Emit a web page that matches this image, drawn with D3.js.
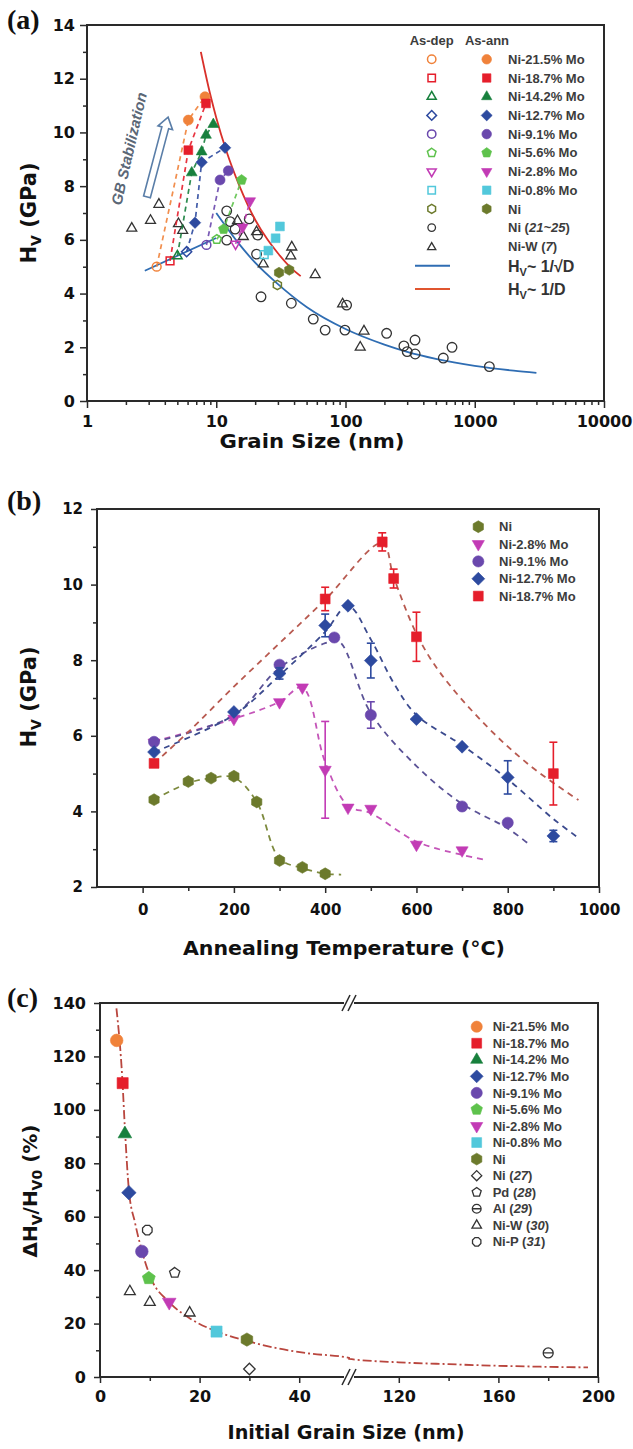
<!DOCTYPE html>
<html><head><meta charset="utf-8">
<script src="https://cdn.jsdelivr.net/npm/d3@7"></script>
<style>body{margin:0;background:#fff}svg{display:block}</style>
</head><body><script>
// ---------------- shared series definitions ----------------
const alloyNames  = ["Ni-21.5% Mo","Ni-18.7% Mo","Ni-14.2% Mo","Ni-12.7% Mo","Ni-9.1% Mo","Ni-5.6% Mo","Ni-2.8% Mo","Ni-0.8% Mo","Ni"];
const alloyColors = ["#f0823a","#e51e2b","#17803d","#2d4a9f","#6a48ad","#5ec24c","#c23bb5","#52c8db","#6c7a2c"];
const alloyShapes = ["circle","square","triUp","diamond","circle","pentagon","triDown","square","hexagon"];

// ---------------- panel (a): hardness vs grain size ----------------
const asDepSize = [3.46,4.39,5.0,5.9,8.4,10.1,14.1,23.5,29.7];
const asDepHv   = [5.0,5.22,5.40,5.56,5.81,6.02,5.85,5.45,4.32];
const annSize = [[6.08,8.18],[6.08,8.33],[6.46,7.71,8.33,9.49],[6.85,7.71,11.7],[10.7,12.4],[11.4,15.7],[16.0,18.3],[25.3,28.8,31.1],[30.6,36.7]];
const annHv   = [[10.46,11.33],[9.34,11.08],[8.5,9.28,9.9,10.3],[6.64,8.89,9.43],[8.23,8.57],[6.4,8.23],[6.47,7.45],[5.6,6.06,6.5],[4.78,4.88]];
const linkedAlloys = 7; // the first seven compositions have a dashed as-dep -> annealed path

const niLitSize = [12.05,12.8,14.0,12.05,18.0,20.9,20.5,22.2,38.1,56.3,69.6,99,102,208,283,300,345,346,571,667,1297];
const niLitHv   = [7.08,6.68,6.40,5.99,6.78,6.18,5.47,3.88,3.64,3.05,2.64,2.64,3.57,2.52,2.05,1.84,2.27,1.75,1.60,2.0,1.28];
const niWSize = [2.22,3.1,3.6,5.1,5.5,14.6,16.2,20.5,23.1,38.4,37.7,58.3,95,139,130];
const niWHv   = [6.43,6.72,7.32,6.6,6.35,6.71,6.12,6.3,5.1,5.73,5.4,4.7,3.61,2.6,2.0];

const sqrtFitSize = [10,15,20,30,50,100,200,300,500,1000,2000,3000];
const sqrtFitHv   = [7.0,5.85,5.15,4.35,3.5,2.68,2.1,1.83,1.57,1.31,1.13,1.05];
const invFitSize  = [7.6,9,10,12,15,20,25,30,38,45];
const invFitHv    = [13.0,11.4,10.55,9.3,8.05,6.75,6.0,5.5,4.95,4.65];
const softeningSize = [2.8,10];
const softeningHv   = [4.85,6.07];

const xTicksA = [1,10,100,1000,10000];
const yTicksA = [0,2,4,6,8,10,12,14];

// ---------------- panel (b): hardness vs annealing temperature ----------------
const seriesB = ["Ni","Ni-2.8% Mo","Ni-9.1% Mo","Ni-12.7% Mo","Ni-18.7% Mo"];
const colorsB = ["#6c7a2c","#c23bb5","#6a48ad","#2d4a9f","#e51e2b"];
const trendColorsB = ["#7d8a3e","#c454b8","#5a5296","#3b4a8e","#b85a50"];
const shapesB = ["hexagon","triDown","circle","diamond","square"];
const tempB = [
  [25,100,150,200,250,300,350,400],
  [25,200,300,350,400,450,500,600,700],
  [25,300,420,500,700,800],
  [25,200,300,400,450,500,600,700,800,900],
  [25,400,525,550,600,900]
];
const hvB = [
  [4.31,4.79,4.88,4.93,4.25,2.7,2.52,2.35],
  [5.82,6.45,6.89,7.28,5.1,4.1,4.07,3.12,2.97],
  [5.84,7.88,8.6,6.55,4.13,3.7],
  [5.57,6.63,7.65,8.92,9.44,7.99,6.44,5.71,4.9,3.35],
  [5.27,9.62,11.13,10.16,8.62,5.0]
];
const errB = [
  [0,0,0,0,0,0,0,0],
  [0,0,0,0,1.28,0,0,0,0],
  [0,0,0,0.35,0,0],
  [0,0,0.15,0.3,0,0.46,0,0,0.44,0.15],
  [0,0.31,0.24,0.25,0.65,0.83]
];
const trendTempB = [
  [25,100,150,200,250,300,350,400,435],
  [25,200,300,350,400,450,500,600,700,750],
  [25,200,300,400,430,500,600,700,800,850],
  [25,200,300,400,450,500,550,600,700,800,900,955],
  [25,100,200,300,400,525,550,600,650,750,850,955]
];
const trendHvB = [
  [4.31,4.75,4.88,4.9,4.25,2.75,2.5,2.35,2.33],
  [5.85,6.45,6.9,7.28,5.3,4.15,3.95,3.2,2.85,2.72],
  [5.84,6.55,7.8,8.45,8.5,6.6,5.2,4.2,3.55,3.1],
  [5.57,6.55,7.6,8.75,9.44,8.55,7.4,6.55,5.75,4.85,3.8,3.3],
  [5.27,6.1,7.3,8.45,9.6,11.1,10.2,8.7,7.7,6.3,5.2,4.3]
];
const xTicksB = [0,200,400,600,800,1000];
const yTicksB = [2,4,6,8,10,12];

// ---------------- panel (c): relative hardness gain vs initial grain size ----------------
const sizeC = [3.35,4.55,5.0,5.8,8.4,9.8,13.9,23.4,29.5];
const gainC = [126,110,91,69,47,37,28,17,14];
const refNamesC = ["Ni (27)","Pd (28)","Al (29)","Ni-W (30)","Ni-P (31)"];
const refShapesC = ["diamond","pentagon","circleBar","triUp","octagon"];
const refSizeC = [[30],[15],[180],[6,10,18],[9.5]];
const refGainC = [[3],[39],[9],[32,28,24],[55]];
const trendSizeC = [3.3,4.5,5,5.8,7,8.3,10,13.9,18,23.5,29.5,35,42,50,100,120,140,160,180,196];
const trendGainC = [138,111,93,70,58,48,38,28,22,17,13.5,11,8.8,7.2,6.8,5.5,4.8,4.2,3.8,3.6];
const xTicksCLeft = [0,20,40];
const xTicksCRight = [120,160,200];
const yTicksC = [0,20,40,60,80,100,120,140];

// ---------------- drawing helpers ----------------
const FRAME = "#2a2a2a";
const SANS = "'DejaVu Sans', sans-serif";
const LEG = "'Liberation Sans', Arial, sans-serif";
const LEGCOL = "#3c3c3c";

function poly(n, rot, k) {
  return {draw(ctx, s) {
    const r = Math.sqrt(s) * k;
    for (let i = 0; i < n; i++) {
      const a = rot + 2 * Math.PI * i / n;
      const x = r * Math.sin(a), y = -r * Math.cos(a);
      if (i === 0) ctx.moveTo(x, y); else ctx.lineTo(x, y);
    }
    ctx.closePath();
  }};
}
const SHAPES = {
  circle: {draw(ctx, s){ const r = Math.sqrt(s); ctx.moveTo(r, 0); ctx.arc(0, 0, r, 0, 2 * Math.PI); }},
  circleBar: {draw(ctx, s){ const r = Math.sqrt(s); ctx.moveTo(r, 0); ctx.arc(0, 0, r, 0, 2 * Math.PI); ctx.moveTo(-r, 0); ctx.lineTo(r, 0); }},
  square: {draw(ctx, s){ const r = Math.sqrt(s) * 0.88; ctx.rect(-r, -r, 2 * r, 2 * r); }},
  triUp: poly(3, 0, 1.25),
  triDown: poly(3, Math.PI, 1.25),
  diamond: poly(4, 0, 1.15),
  pentagon: poly(5, 0, 1.08),
  hexagon: poly(6, 0, 1.06),
  octagon: poly(8, Math.PI / 8, 1.03)
};
const sym = (shape, r) => d3.symbol().type(SHAPES[shape]).size(r * r)();

function drawMarkers(g, xs, ys, fx, fy, shape, r, color, filled, sw) {
  g.append("g").selectAll("path").data(d3.zip(xs, ys)).join("path")
    .attr("transform", d => `translate(${fx(d[0])},${fy(d[1])})`)
    .attr("d", sym(shape, r))
    .attr("fill", filled ? color : "none")
    .attr("stroke", color)
    .attr("stroke-width", filled ? 0.6 : (sw || 1.5));
}

function styleAxis(g, fs) {
  g.select(".domain").remove();
  g.attr("font-family", null).attr("font-size", null);
  g.selectAll(".tick line").attr("stroke", FRAME).attr("stroke-width", 1.5);
  g.selectAll(".tick text").attr("fill", "#111")
    .style("font-family", SANS).style("font-weight", "bold").style("font-size", fs + "px");
}

function addRich(textSel, parts) {
  parts.forEach(p => {
    const t = textSel.append("tspan").text(p.t);
    if (p.i) t.style("font-style", "italic");
    if (p.sub) t.style("font-size", p.sub + "px").attr("dy", p.dy);
    else if (p.dy) t.attr("dy", p.dy);
  });
}

const svg = d3.select("body").append("svg")
  .attr("width", 633).attr("height", 1449)
  .style("font-family", SANS);

function panelLabel(txt, y) {
  svg.append("text").attr("x", 7).attr("y", y).text(txt)
    .style("font-family", "'Liberation Serif', 'DejaVu Serif', serif")
    .style("font-weight", "bold").style("font-size", "28px").attr("fill", "#111");
}

function yTitle(x, y, parts, fs) {
  const t = svg.append("text").attr("transform", `translate(${x},${y}) rotate(-90)`)
    .attr("text-anchor", "middle").attr("fill", "#111")
    .style("font-weight", "bold").style("font-size", fs + "px");
  addRich(t, parts);
}
function xTitle(x, y, txt, len, fs) {
  svg.append("text").attr("x", x).attr("y", y).attr("text-anchor", "middle")
    .attr("fill", "#111").style("font-weight", "bold").style("font-size", fs + "px")
    .attr("textLength", len).attr("lengthAdjust", "spacingAndGlyphs").text(txt);
}
const intFmt = d3.format("d");

// =============================== PANEL (a) ===============================
{
  const g = svg.append("g");
  const x = d3.scaleLog().domain([1, 10000]).range([87, 604]);
  const y = d3.scaleLinear().domain([0, 14]).range([401, 25]);

  const minorX = [];
  [1, 10, 100, 1000].forEach(d => { for (let m = 2; m <= 9; m++) minorX.push(d * m); });
  g.append("g").attr("transform", "translate(0,401)")
    .call(d3.axisBottom(x).tickValues(minorX).tickFormat("").tickSize(4)).call(a => styleAxis(a, 16));
  g.append("g").attr("transform", "translate(0,401)")
    .call(d3.axisBottom(x).tickValues(xTicksA).tickFormat(intFmt).tickSize(7).tickPadding(8)).call(a => styleAxis(a, 16));
  g.append("g").attr("transform", "translate(87,0)")
    .call(d3.axisLeft(y).tickValues(d3.range(1, 14, 2)).tickFormat("").tickSize(4)).call(a => styleAxis(a, 16));
  g.append("g").attr("transform", "translate(87,0)")
    .call(d3.axisLeft(y).tickValues(yTicksA).tickSize(7).tickPadding(5)).call(a => styleAxis(a, 16));
  g.append("rect").attr("x", 87).attr("y", 25).attr("width", 517).attr("height", 376)
    .attr("fill", "none").attr("stroke", FRAME).attr("stroke-width", 2);

  const line = d3.line().x(d => x(d[0])).y(d => y(d[1])).curve(d3.curveMonotoneX);

  // Hall-Petch fits
  g.append("path").attr("d", line(d3.zip(sqrtFitSize, sqrtFitHv)))
    .attr("fill", "none").attr("stroke", "#2f6db3").attr("stroke-width", 1.8);
  g.append("path").attr("d", line(d3.zip(softeningSize, softeningHv)))
    .attr("fill", "none").attr("stroke", "#2f6db3").attr("stroke-width", 1.8);

  // literature data
  drawMarkers(g, niLitSize, niLitHv, x, y, "circle", 4.8, "#333", false, 1.3);
  drawMarkers(g, niWSize, niWHv, x, y, "triUp", 4.6, "#333", false, 1.3);

  g.append("path").attr("d", line(d3.zip(invFitSize, invFitHv)))
    .attr("fill", "none").attr("stroke", "#d9302a").attr("stroke-width", 1.8);

  // as-deposited -> annealed dashed paths
  for (let i = 0; i < linkedAlloys; i++) {
    const pts = [[asDepSize[i], asDepHv[i]]].concat(d3.zip(annSize[i], annHv[i]));
    g.append("path").attr("d", d3.line().x(d => x(d[0])).y(d => y(d[1]))(pts))
      .attr("fill", "none").attr("stroke", alloyColors[i]).attr("stroke-width", 1.7)
      .attr("stroke-dasharray", "5,4").attr("opacity", 0.9);
  }
  alloyNames.forEach((n, i) => {
    drawMarkers(g, [asDepSize[i]], [asDepHv[i]], x, y, alloyShapes[i], 4.4, alloyColors[i], false, 1.5);
  });
  alloyNames.forEach((n, i) => {
    drawMarkers(g, annSize[i], annHv[i], x, y, alloyShapes[i], 5, alloyColors[i], true);
  });

  // stabilization arrow and caption
  const base = [x(2.91), y(7.6)], tip = [x(4.24), y(10.57)];
  const len = Math.hypot(tip[0] - base[0], tip[1] - base[1]);
  const ang = Math.atan2(tip[1] - base[1], tip[0] - base[0]) * 180 / Math.PI;
  const hw = 3.5, hh = 7.5, hl = 11;
  const arrowPts = [[0, -hw], [len - hl, -hw], [len - hl, -hh], [len, 0], [len - hl, hh], [len - hl, hw], [0, hw]];
  g.append("polygon").attr("points", arrowPts.map(p => p.join(",")).join(" "))
    .attr("transform", `translate(${base[0]},${base[1]}) rotate(${ang})`)
    .attr("fill", "#fff").attr("stroke", "#5a7ea8").attr("stroke-width", 1.6);
  g.append("text").attr("transform", `translate(${x(2.08) + 6},${y(9.35)}) rotate(-77)`)
    .attr("text-anchor", "middle").attr("fill", "#5b6776")
    .style("font-weight", "bold").style("font-style", "italic").style("font-size", "15px")
    .style("font-family", LEG).text("GB Stabilization");

  // legend
  const lg = g.append("g").style("font-family", LEG).style("font-weight", "bold").style("font-size", "13px").attr("fill", LEGCOL);
  lg.append("text").attr("x", 431.7).attr("y", 45).attr("text-anchor", "middle").text("As-dep");
  lg.append("text").attr("x", 487).attr("y", 45).attr("text-anchor", "middle").text("As-ann");
  const rowY = i => 59.3 + i * 18.7;
  alloyNames.forEach((n, i) => {
    lg.append("path").attr("transform", `translate(431.7,${rowY(i)})`).attr("d", sym(alloyShapes[i], 4.2))
      .attr("fill", "none").attr("stroke", alloyColors[i]).attr("stroke-width", 1.5);
    lg.append("path").attr("transform", `translate(486.7,${rowY(i)})`).attr("d", sym(alloyShapes[i], 4.8))
      .attr("fill", alloyColors[i]).attr("stroke", alloyColors[i]).attr("stroke-width", 0.6);
    lg.append("text").attr("x", 508).attr("y", rowY(i) + 4.6).text(n);
  });
  lg.append("path").attr("transform", `translate(431.7,${rowY(9)})`).attr("d", sym("circle", 3.8))
    .attr("fill", "none").attr("stroke", "#333").attr("stroke-width", 1.3);
  addRich(lg.append("text").attr("x", 508).attr("y", rowY(9) + 4.6), [{t: "Ni ("}, {t: "21~25", i: true}, {t: ")"}]);
  lg.append("path").attr("transform", `translate(431.7,${rowY(10) + 1})`).attr("d", sym("triUp", 3.8))
    .attr("fill", "none").attr("stroke", "#333").attr("stroke-width", 1.3);
  addRich(lg.append("text").attr("x", 508).attr("y", rowY(10) + 4.6), [{t: "Ni-W ("}, {t: "7", i: true}, {t: ")"}]);

  [["#2f6db3", 265.7, "1/\u221AD"], ["#e0552f", 289, "1/D"]].forEach(([c, yy, lbl]) => {
    lg.append("line").attr("x1", 415).attr("x2", 450).attr("y1", yy).attr("y2", yy)
      .attr("stroke", c).attr("stroke-width", 2);
    const t = lg.append("text").attr("x", 508).attr("y", yy + 6).style("font-size", "16px").attr("fill", "#333");
    addRich(t, [{t: "H"}, {t: "V", sub: 11, dy: 4}, {t: "~ " + lbl, dy: -4}]);
  });

  xTitle(312, 448, "Grain Size (nm)", 185, 20);
  yTitle(36, 213, [{t: "H"}, {t: "V", sub: 14, dy: 5}, {t: " (GPa)", dy: -5}], 21);
}
panelLabel("(a)", 29);

// =============================== PANEL (b) ===============================
{
  const g = svg.append("g");
  const x = d3.scaleLinear().domain([-100, 1000]).range([97, 599]);
  const y = d3.scaleLinear().domain([2, 12]).range([887, 509]);

  g.append("g").attr("transform", "translate(0,887)")
    .call(d3.axisBottom(x).tickValues([100, 300, 500, 700, 900]).tickFormat("").tickSize(4)).call(a => styleAxis(a, 15));
  g.append("g").attr("transform", "translate(0,887)")
    .call(d3.axisBottom(x).tickValues(xTicksB).tickFormat(intFmt).tickSize(6).tickPadding(11)).call(a => styleAxis(a, 15));
  g.append("g").attr("transform", "translate(97,0)")
    .call(d3.axisLeft(y).tickValues([3, 5, 7, 9, 11]).tickFormat("").tickSize(4)).call(a => styleAxis(a, 15));
  g.append("g").attr("transform", "translate(97,0)")
    .call(d3.axisLeft(y).tickValues(yTicksB).tickSize(6).tickPadding(8)).call(a => styleAxis(a, 15));
  g.append("rect").attr("x", 97).attr("y", 509).attr("width", 502).attr("height", 378)
    .attr("fill", "none").attr("stroke", FRAME).attr("stroke-width", 2);

  const line = d3.line().x(d => x(d[0])).y(d => y(d[1])).curve(d3.curveCatmullRom.alpha(0.5));
  seriesB.forEach((s, i) => {
    g.append("path").attr("d", line(d3.zip(trendTempB[i], trendHvB[i])))
      .attr("fill", "none").attr("stroke", trendColorsB[i]).attr("stroke-width", 1.8)
      .attr("stroke-dasharray", "6,5");
  });
  seriesB.forEach((s, i) => {
    const pts = d3.zip(tempB[i], hvB[i], errB[i]).filter(d => d[2] > 0);
    const eg = g.append("g").attr("stroke", colorsB[i]).attr("stroke-width", 1.6);
    pts.forEach(([t, h, e]) => {
      eg.append("line").attr("x1", x(t)).attr("x2", x(t)).attr("y1", y(h - e)).attr("y2", y(h + e));
      [h - e, h + e].forEach(v => eg.append("line").attr("x1", x(t) - 4).attr("x2", x(t) + 4).attr("y1", y(v)).attr("y2", y(v)));
    });
    drawMarkers(g, tempB[i], hvB[i], x, y, shapesB[i], 5.6, colorsB[i], true);
  });

  const lg = g.append("g").style("font-family", LEG).style("font-weight", "bold").style("font-size", "13px").attr("fill", LEGCOL);
  seriesB.forEach((s, i) => {
    const yy = 526.7 + i * 17.35;
    lg.append("path").attr("transform", `translate(478.3,${yy})`).attr("d", sym(shapesB[i], 5.6))
      .attr("fill", colorsB[i]).attr("stroke", colorsB[i]).attr("stroke-width", 0.6);
    lg.append("text").attr("x", 499).attr("y", yy + 4.6).text(s);
  });

  xTitle(344, 955, "Annealing Temperature (\u00B0C)", 322, 20);
  yTitle(36, 697, [{t: "H"}, {t: "V", sub: 14, dy: 5}, {t: " (GPa)", dy: -5}], 21);
}
panelLabel("(b)", 510);

// =============================== PANEL (c) ===============================
{
  const g = svg.append("g");
  const xL = d3.scaleLinear().domain([0, 50]).range([100, 349]);
  const xR = d3.scaleLinear().domain([100, 200]).range([349, 598]);
  const x = v => (v <= 50 ? xL(v) : xR(v));
  const y = d3.scaleLinear().domain([0, 140]).range([1377, 1003]);

  [[xL, [10, 30], xTicksCLeft], [xR, [140, 180], xTicksCRight]].forEach(([sc, minor, major]) => {
    g.append("g").attr("transform", "translate(0,1377)")
      .call(d3.axisBottom(sc).tickValues(minor).tickFormat("").tickSize(4)).call(a => styleAxis(a, 16));
    g.append("g").attr("transform", "translate(0,1377)")
      .call(d3.axisBottom(sc).tickValues(major).tickFormat(intFmt).tickSize(6).tickPadding(8)).call(a => styleAxis(a, 16));
  });
  g.append("g").attr("transform", "translate(100,0)")
    .call(d3.axisLeft(y).tickValues(d3.range(10, 140, 20)).tickFormat("").tickSize(4)).call(a => styleAxis(a, 16));
  g.append("g").attr("transform", "translate(100,0)")
    .call(d3.axisLeft(y).tickValues(yTicksC).tickSize(6).tickPadding(8)).call(a => styleAxis(a, 16));
  g.append("rect").attr("x", 100).attr("y", 1003).attr("width", 498).attr("height", 374)
    .attr("fill", "none").attr("stroke", FRAME).attr("stroke-width", 2);
  // axis break marks
  [1003, 1377].forEach(yy => {
    g.append("rect").attr("x", 344).attr("y", yy - 3).attr("width", 10).attr("height", 6).attr("fill", "#fff");
    [-3, 3].forEach(dx => g.append("line")
      .attr("x1", 349 + dx - 4).attr("y1", yy + 8).attr("x2", 349 + dx + 4).attr("y2", yy - 8)
      .attr("stroke", FRAME).attr("stroke-width", 1.5));
  });

  const line = d3.line().x(d => x(d[0])).y(d => y(d[1])).curve(d3.curveMonotoneX);
  g.append("path").attr("d", line(d3.zip(trendSizeC, trendGainC)))
    .attr("fill", "none").attr("stroke", "#b9463e").attr("stroke-width", 1.8)
    .attr("stroke-dasharray", "9,3,2,3");

  refNamesC.forEach((n, i) => {
    drawMarkers(g, refSizeC[i], refGainC[i], x, y, refShapesC[i], 5, "#333", false, 1.3);
  });
  alloyNames.forEach((n, i) => {
    drawMarkers(g, [sizeC[i]], [gainC[i]], x, y, alloyShapes[i], 6.3, alloyColors[i], true);
  });

  const lg = g.append("g").style("font-family", LEG).style("font-weight", "bold").style("font-size", "13px").attr("fill", LEGCOL);
  const rowY = i => 1026.7 + i * 16.55;
  alloyNames.forEach((n, i) => {
    lg.append("path").attr("transform", `translate(476.7,${rowY(i)})`).attr("d", sym(alloyShapes[i], 5.6))
      .attr("fill", alloyColors[i]).attr("stroke", alloyColors[i]).attr("stroke-width", 0.6);
    lg.append("text").attr("x", 492.7).attr("y", rowY(i) + 4.6).text(n);
  });
  refNamesC.forEach((n, i) => {
    const r = 9 + i;
    lg.append("path").attr("transform", `translate(476.7,${rowY(r)})`).attr("d", sym(refShapesC[i], 4.4))
      .attr("fill", "none").attr("stroke", "#333").attr("stroke-width", 1.3);
    const m = n.match(/^(.*\()(\d+)(\))$/);
    addRich(lg.append("text").attr("x", 492.7).attr("y", rowY(r) + 4.6), [{t: m[1]}, {t: m[2], i: true}, {t: m[3]}]);
  });

  xTitle(346, 1439, "Initial Grain Size (nm)", 237, 20);
  yTitle(37, 1191, [{t: "\u0394H"}, {t: "V", sub: 14, dy: 5}, {t: "/H", dy: -5}, {t: "V0", sub: 14, dy: 5}, {t: " (%)", dy: -5}], 20);
}
panelLabel("(c)", 1007);
</script></body></html>
